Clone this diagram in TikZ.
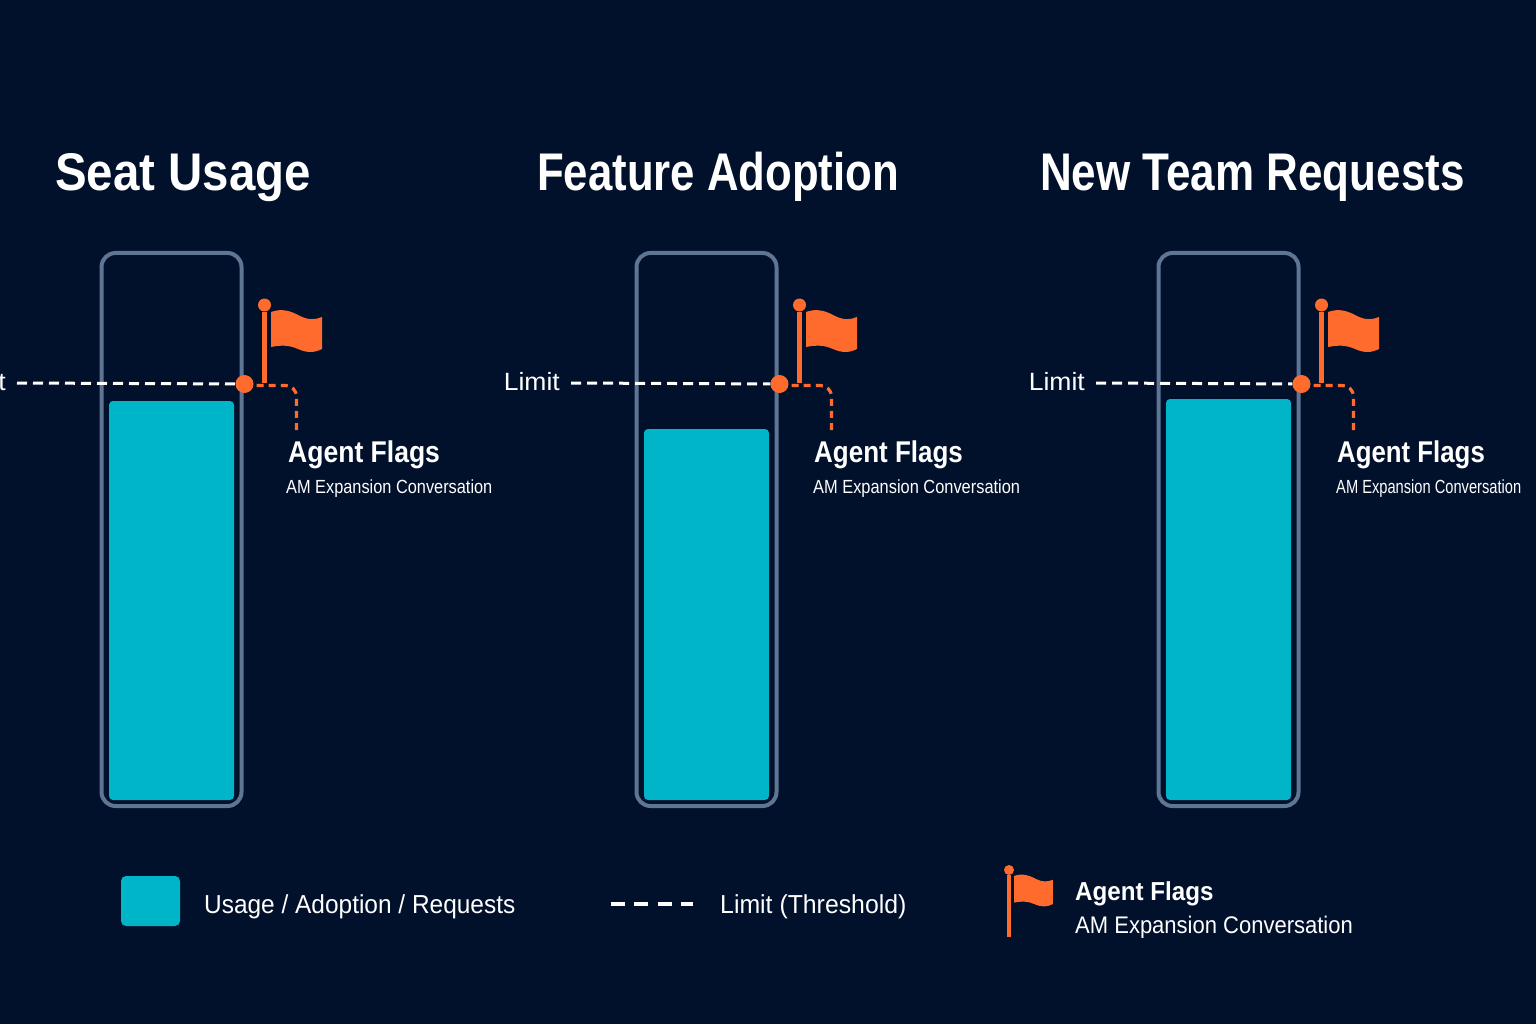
\documentclass[tikz,border=0pt]{standalone}
\usepackage{graphicx}
\usepackage{fontspec}
\setmainfont{Liberation Sans}
\usetikzlibrary{calc}
\definecolor{Night}{HTML}{01112B}
\definecolor{Teal}{HTML}{00B5C8}
\definecolor{Slate}{HTML}{5F7594}
\definecolor{Flag}{HTML}{FF6B2C}
\newcommand{\xs}[2]{\scalebox{#1}[1]{#2}}
\tikzset{
  % one unit is one pixel of the reference, y runs downwards
  every node/.style={inner sep=0pt,text=white},
  title/.style={anchor=base west,font=\fontsize{53}{60}\selectfont\bfseries},
  flagname/.style={anchor=base west,font=\fontsize{30}{36}\selectfont\bfseries},
  flagnote/.style={anchor=base west,font=\fontsize{19}{24}\selectfont},
  limitname/.style={anchor=east,font=\fontsize{25}{30}\selectfont},
  legendtext/.style={anchor=base west,font=\fontsize{26}{32}\selectfont},
  frame/.style={draw=Slate,line width=4pt,rounded corners=14pt},
  bar/.style={fill=Teal,rounded corners=4pt},
  limit/.style={draw=white,line width=3pt,dash pattern=on 10pt off 6pt},
  flagline/.style={draw=Flag,line width=3.2pt,rounded corners=11pt,dash pattern=on 7pt off 5.1pt},
  pole/.style={draw=Flag,line width=5pt},
  dot/.style={circle,fill=Flag,minimum size=18pt},
  knob/.style={circle,fill=Flag,minimum size=13pt},
  pics/cloth/.style={code={
    \fill[Flag] (0,0) .. controls (11,-4) and (20,-1) .. (29,4)
      .. controls (37,8) and (44,8) .. (51,5) -- (51,37)
      .. controls (43,41) and (36,41) .. (27,37)
      .. controls (18,33) and (10,33) .. (0,35) -- cycle;
  }},
}
\begin{document}
\begin{tikzpicture}[x=1pt,y=-1pt]
  \clip (0,0) rectangle (1536,1024);
  \fill[Night] (0,0) rectangle (1536,1024);
  \node[title] (t1) at (55,191) {\xs{.895}{Seat Usage}};
  \node[title] (t2) at (537,191) {\xs{.825}{Feature Adoption}};
  \node[title] (t3) at (1040,191) {\xs{.83}{New Team Requests}};
  \foreach \n/\x/\bartop/\dashx/\namex/\namew/\notex/\notew in {
      1/101/401/17/288/.884/286/.86,
      2/636/429/571/814/.866/813/.863,
      3/1158/399/1096/1337/.86/1336/.772} {
    \draw[frame] (\x+.5,253) rectangle (\x+140.5,806);
    \fill[bar] (\x+8,\bartop) rectangle (\x+133,800);
    \node[dot] (dot\n) at (\x+143.5,384) {};
    \node[limitname] (lim\n) at (\dashx-11,382) {\xs{1.06}{Limit}};
    \draw[limit] (\dashx,383) -- (dot\n);
    \coordinate (base\n) at (\x+163.5,383);
    \node[knob] (knob\n) at (\x+163.5,305) {};
    \draw[pole] (base\n) -- (knob\n);
    \pic at (\x+170,312) {cloth};
    \coordinate (end\n) at (\x+195.5,430);
    \draw[flagline] (dot\n.center) ++(0,1.5) -| (end\n);
    \node[flagname] (name\n) at (\namex,462) {\xs{\namew}{Agent Flags}};
    \node[flagnote] (note\n) at (\notex,493) {\xs{\notew}{AM Expansion Conversation}};
  }
  % legend
  \fill[Teal,rounded corners=5pt] (121,876) rectangle (180,926);
  \node[legendtext] (use) at (204,913) {\xs{.94}{Usage / Adoption / Requests}};
  \coordinate (lega) at (611,904);
  \coordinate (legb) at (693,904);
  \draw[limit,line width=4pt,dash pattern=on 14pt off 9.3pt] (lega) -- (legb);
  \node[legendtext] (thr) at (720,913) {\xs{.955}{Limit (Threshold)}};
  \coordinate (legbase) at (1009,937);
  \node[knob,minimum size=10pt] (legknob) at (1009,870) {};
  \draw[pole,line width=4pt] (legbase) -- (legknob);
  \pic[scale=.76] at (1014,876) {cloth};
  \node[anchor=base west,font=\fontsize{26}{30}\selectfont\bfseries] (legname) at (1075,900) {\xs{.93}{Agent Flags}};
  \node[anchor=base west,font=\fontsize{24}{30}\selectfont] (legnote) at (1075,933) {\xs{.917}{AM Expansion Conversation}};
\end{tikzpicture}
\end{document}
